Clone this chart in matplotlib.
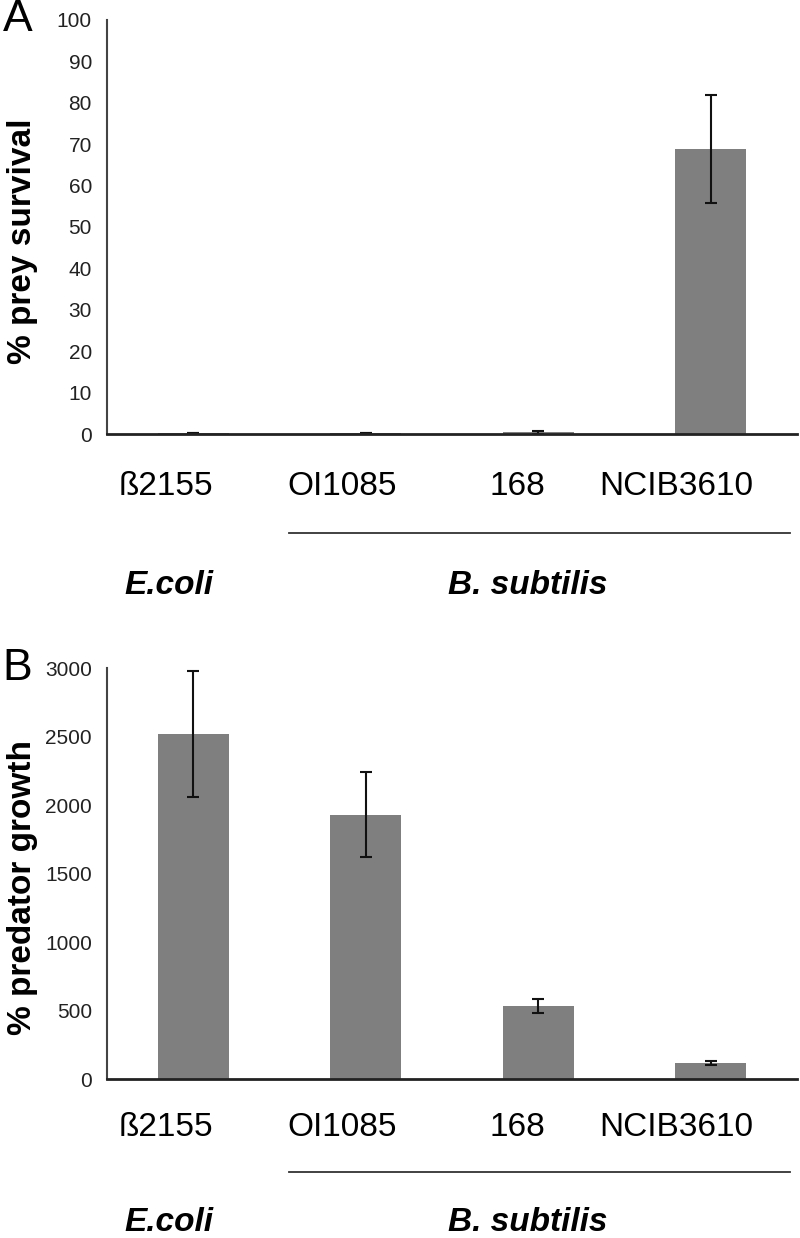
import matplotlib
matplotlib.use('Agg')
import matplotlib.pyplot as plt
import numpy as np
from matplotlib.transforms import blended_transform_factory

strains = ['ß2155', 'OI1085', '168', 'NCIB3610']
species = ['E.coli', 'B. subtilis']

# A: % prey survival
prey_mean = [0.3, 0.3, 0.4, 68.8]
prey_err = [0.0, 0.0, 0.3, 13.0]

# B: % predator growth
pred_mean = [2520, 1930, 535, 115]
pred_err = [460, 310, 50, 15]

plt.rcParams['font.family'] = ['Liberation Sans', 'DejaVu Sans']

fig = plt.figure(figsize=(8, 12.38), dpi=100)
axA = fig.add_axes([0.134, 0.6494, 0.862, 0.3345])
axB = fig.add_axes([0.134, 0.1284, 0.862, 0.332])

# label offsets under the bars (labels sit a bit left of the bars)
lab_dx = [-0.16, -0.14, -0.12, -0.2]

def panel(ax, vals, errs, ymax, step, ylabel, letter, offs):
    x = np.arange(len(vals))
    ax.bar(x, vals, width=0.41, color='#7f7f7f', yerr=errs,
           error_kw=dict(ecolor='#111111', elinewidth=1.5, capsize=4.5, capthick=1.5))
    ax.set_xlim(-0.5, len(vals) - 0.5)
    ax.set_ylim(0, ymax)
    ax.set_yticks(np.arange(0, ymax + 1, step))
    ax.tick_params(axis='y', length=0, pad=11, labelsize=15, labelcolor='#222222')
    ax.set_xticks([])
    for s in ['top', 'right']:
        ax.spines[s].set_visible(False)
    ax.spines['left'].set_color('#444444')
    ax.spines['left'].set_linewidth(1.5)
    ax.spines['bottom'].set_color('#222222')
    ax.spines['bottom'].set_linewidth(2)
    ax.set_ylabel(ylabel, fontsize=24, fontweight='bold')
    ax.yaxis.set_label_coords(-0.10, 0.465)
    tr = blended_transform_factory(ax.transData, ax.transAxes)
    lab_y, line_y, sp_y = offs
    for i, s in enumerate(strains):
        ax.text(i + lab_dx[i], lab_y, s, transform=tr, ha='center', va='center', fontsize=24)
    ax.plot([0.555, 3.46], [line_y, line_y], transform=tr, color='#333333',
            lw=1.3, clip_on=False)
    ax.text(-0.14, sp_y, species[0], transform=tr, ha='center', va='center',
            fontsize=24, fontweight='bold', style='italic')
    ax.text(1.94, sp_y, species[1], transform=tr, ha='center', va='center',
            fontsize=24, fontweight='bold', style='italic')
    ax.text(-0.13, 1.0, letter, transform=ax.transAxes, fontsize=32, ha='center', va='center')

panel(axA, prey_mean, prey_err, 100, 10, '% prey survival', 'A', (-0.126, -0.239, -0.365))
panel(axB, pred_mean, pred_err, 3000, 500, '% predator growth', 'B', (-0.119, -0.226, -0.350))

fig.savefig('out.png', dpi=100)
